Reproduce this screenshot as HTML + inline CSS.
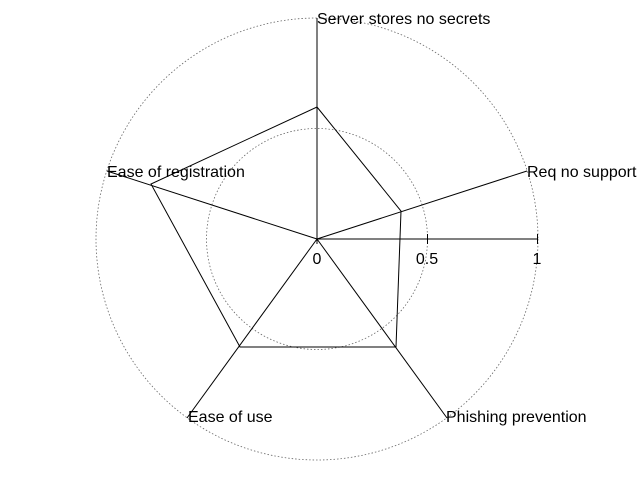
<!DOCTYPE html>
<html><head><style>html,body{margin:0;padding:0;background:#fff}svg{display:block}</style></head>
<body>
<svg width="640" height="480" xmlns="http://www.w3.org/2000/svg" font-family="Liberation Sans, Arial, sans-serif" font-size="16">
<rect width="640" height="480" fill="#fff"/>
<circle cx="317" cy="239" r="221" fill="none" stroke="#666" stroke-width="0.8" stroke-dasharray="1.5,2"/>
<circle cx="317" cy="239" r="110.5" fill="none" stroke="#666" stroke-width="0.8" stroke-dasharray="1.5,2"/>
<g stroke="#000" stroke-width="1" fill="none">
<line x1="317" y1="239" x2="317" y2="18"/>
<line x1="317" y1="239" x2="527" y2="171"/>
<line x1="317" y1="239" x2="107" y2="171"/>
<line x1="317" y1="239" x2="187" y2="418"/>
<line x1="317" y1="239" x2="447" y2="418"/>
<line x1="317" y1="239" x2="538" y2="239"/>
<line x1="317" y1="239" x2="317" y2="244"/>
<line x1="427.5" y1="234" x2="427.5" y2="244"/>
<line x1="537.5" y1="234" x2="537.5" y2="244"/>
<polygon points="317,107 401,211 396,347 240,347 151,184"/>
</g>
<g fill="#000">
<text x="317" y="24">Server stores no secrets</text>
<text x="527" y="177">Req no support</text>
<text x="107" y="177">Ease of registration</text>
<text x="188" y="422">Ease of use</text>
<text x="446" y="422">Phishing prevention</text>
<text x="317" y="264" text-anchor="middle">0</text>
<text x="427" y="264" text-anchor="middle">0.5</text>
<text x="537" y="264" text-anchor="middle">1</text>
</g>
</svg>
</body></html>
